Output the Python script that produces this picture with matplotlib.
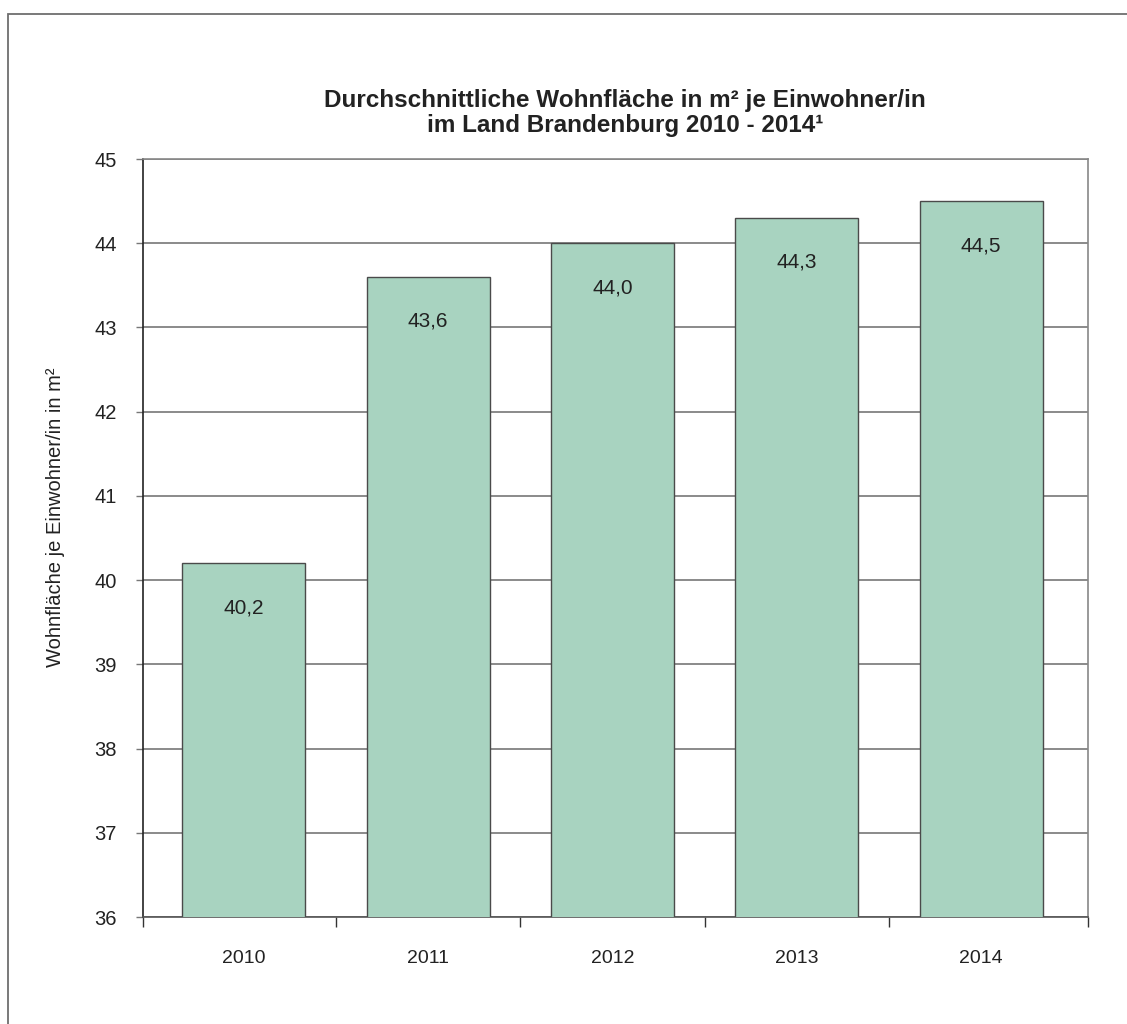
import matplotlib.pyplot as plt
from matplotlib.patches import Rectangle

years = ['2010', '2011', '2012', '2013', '2014']
values = [40.2, 43.6, 44.0, 44.3, 44.5]
labels = ['40,2', '43,6', '44,0', '44,3', '44,5']

plt.rcParams['font.family'] = ['Liberation Sans', 'DejaVu Sans']

fig = plt.figure(figsize=(11.27, 10.24), dpi=100)
ax = fig.add_axes([143 / 1127, 1 - 917 / 1024, 945 / 1127, 758 / 1024])

# outer frame (open to the right and bottom like the source image)
fig.patches.append(Rectangle((8 / 1127, -0.05), 1.1, 1 - 14 / 1024 + 0.05,
                             transform=fig.transFigure, fill=False,
                             edgecolor='#6e6e6e', linewidth=1.3))

x = list(range(len(years)))
ax.bar(x, values, width=0.667, color='#a8d3c0', edgecolor='#4a4a4a',
       linewidth=1.0, zorder=3)

for xi, v, lab in zip(x, values, labels):
    ax.annotate(lab, (xi, v), xytext=(0, -32), textcoords='offset points',
                ha='center', va='center', fontsize=15, color='#222222',
                zorder=4)

ax.set_ylim(36, 45)
ax.set_yticks(range(36, 46))
ax.set_xlim(-0.547, 4.58)
ax.set_xticks(x)
ax.set_xticklabels(years)
ax.tick_params(axis='x', length=0, pad=24, labelsize=14, colors='#222222')
ax.set_xticks([-0.547, 0.5, 1.5, 2.5, 3.5, 4.58], minor=True)
ax.tick_params(axis='x', which='minor', length=7, color='#333333', width=1)
ax.tick_params(axis='y', length=5, width=1, color='#777777', labelsize=14.5,
               pad=14, labelcolor='#222222')

ax.grid(axis='y', color='#777777', linewidth=1.2, zorder=0)
ax.set_axisbelow(True)
ax.spines['left'].set_color('#222222')
ax.spines['bottom'].set_color('#555555')
ax.spines['top'].set_color('#888888')
ax.spines['right'].set_color('#888888')
for s in ax.spines.values():
    s.set_linewidth(1.2)

ax.set_ylabel('Wohnfläche je Einwohner/in in m²', fontsize=14.5,
              color='#222222')
ax.yaxis.set_label_coords(-78 / 945, 0.528)
fig.text(625 / 1127, 1 - 113 / 1024,
         'Durchschnittliche Wohnfläche in m² je Einwohner/in\n'
         'im Land Brandenburg 2010 - 2014¹',
         ha='center', va='center', fontsize=17.5, fontweight='bold',
         color='#222222', linespacing=1.15)

fig.savefig('out.png', dpi=100)
